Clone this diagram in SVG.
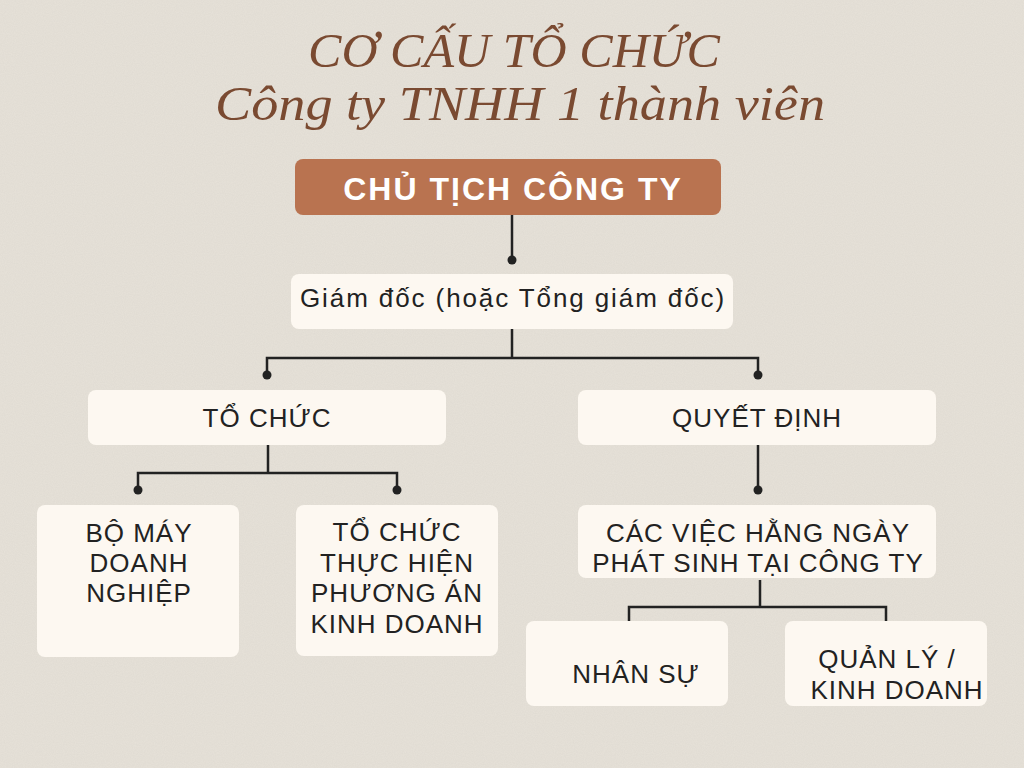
<svg xmlns="http://www.w3.org/2000/svg" width="1024" height="768" viewBox="0 0 1024 768">
<defs>
<style>
.title{font-family:"Liberation Serif","DejaVu Serif",serif;font-style:italic;font-size:48px;fill:#7a4a31;text-anchor:middle}
.box{fill:#fdf8f1}
.t{font-family:"Liberation Sans",Arial,sans-serif;font-size:26px;fill:#222;text-anchor:middle;letter-spacing:1px}
.t.wide{letter-spacing:1.9px}
.conn path{fill:none;stroke:#222;stroke-width:2.5}
.conn circle{fill:#222}
</style>
<filter id="grain" x="0" y="0" width="100%" height="100%">
<feTurbulence type="fractalNoise" baseFrequency="0.9" numOctaves="2" seed="3"/>
<feColorMatrix type="matrix" values="0 0 0 0 0.5  0 0 0 0 0.48  0 0 0 0 0.44  0 0 0 0.18 0"/>
</filter>
</defs>
<rect width="1024" height="768" fill="#e7e2d9"/>
<rect width="1024" height="768" filter="url(#grain)"/>
<g id="title">
<text class="title" x="514" y="67" textLength="412" lengthAdjust="spacingAndGlyphs">CƠ CẤU TỔ CHỨC</text>
<text class="title" x="520" y="120" textLength="610" lengthAdjust="spacingAndGlyphs">Công ty TNHH 1 thành viên</text>
</g>
<g class="conn" id="connectors">
<path d="M512 215V260"/><circle cx="512" cy="260" r="4.5"/>
<path d="M512 329V358H267V375M512 358H758V375"/>
<circle cx="267" cy="375" r="4.5"/><circle cx="758" cy="375" r="4.5"/>
<path d="M268 445V473H138V490M268 473H397V490"/>
<circle cx="138" cy="490" r="4.5"/><circle cx="397" cy="490" r="4.5"/>
<path d="M758 445V490"/><circle cx="758" cy="490" r="4.5"/>
<path d="M760 580V607H629V625M760 607H886V625"/>
<circle cx="629" cy="626" r="4.5"/><circle cx="886" cy="626" r="4.5"/>
</g>
<g id="chu-tich">
<rect x="295" y="159" width="426" height="56" rx="8" fill="#b97350"/>
<text x="513" y="200" font-family="Liberation Sans, Arial, sans-serif" font-weight="bold" font-size="32" letter-spacing="2" fill="#fff" text-anchor="middle">CHỦ TỊCH CÔNG TY</text>
</g>
<g id="giam-doc">
<rect class="box" x="291" y="274" width="442" height="55" rx="8"/>
<text class="t wide" x="513" y="307">Giám đốc (hoặc Tổng giám đốc)</text>
</g>
<g id="to-chuc">
<rect class="box" x="88" y="390" width="358" height="55" rx="8"/>
<text class="t" x="267" y="427">TỔ CHỨC</text>
</g>
<g id="quyet-dinh">
<rect class="box" x="578" y="390" width="358" height="55" rx="8"/>
<text class="t" x="757" y="427">QUYẾT ĐỊNH</text>
</g>
<g id="bo-may">
<rect class="box" x="37" y="505" width="202" height="152" rx="8"/>
<text class="t" x="139" y="542">BỘ MÁY</text>
<text class="t" x="139" y="572">DOANH</text>
<text class="t" x="139" y="602">NGHIỆP</text>
</g>
<g id="to-chuc-thuc-hien">
<rect class="box" x="296" y="505" width="202" height="151" rx="8"/>
<text class="t" x="397" y="541">TỔ CHỨC</text>
<text class="t" x="397" y="572">THỰC HIỆN</text>
<text class="t" x="397" y="602">PHƯƠNG ÁN</text>
<text class="t" x="397" y="633">KINH DOANH</text>
</g>
<g id="cac-viec">
<rect class="box" x="578" y="505" width="358" height="73" rx="8"/>
<text class="t" x="758" y="542">CÁC VIỆC HẰNG NGÀY</text>
<text class="t" x="758" y="572">PHÁT SINH TẠI CÔNG TY</text>
</g>
<g id="nhan-su">
<rect class="box" x="526" y="621" width="202" height="85" rx="8"/>
<text class="t" x="636" y="683">NHÂN SỰ</text>
</g>
<g id="quan-ly">
<rect class="box" x="785" y="621" width="202" height="85" rx="8"/>
<text class="t" x="887" y="668">QUẢN LÝ /</text>
<text class="t" x="897" y="699">KINH DOANH</text>
</g>
</svg>
